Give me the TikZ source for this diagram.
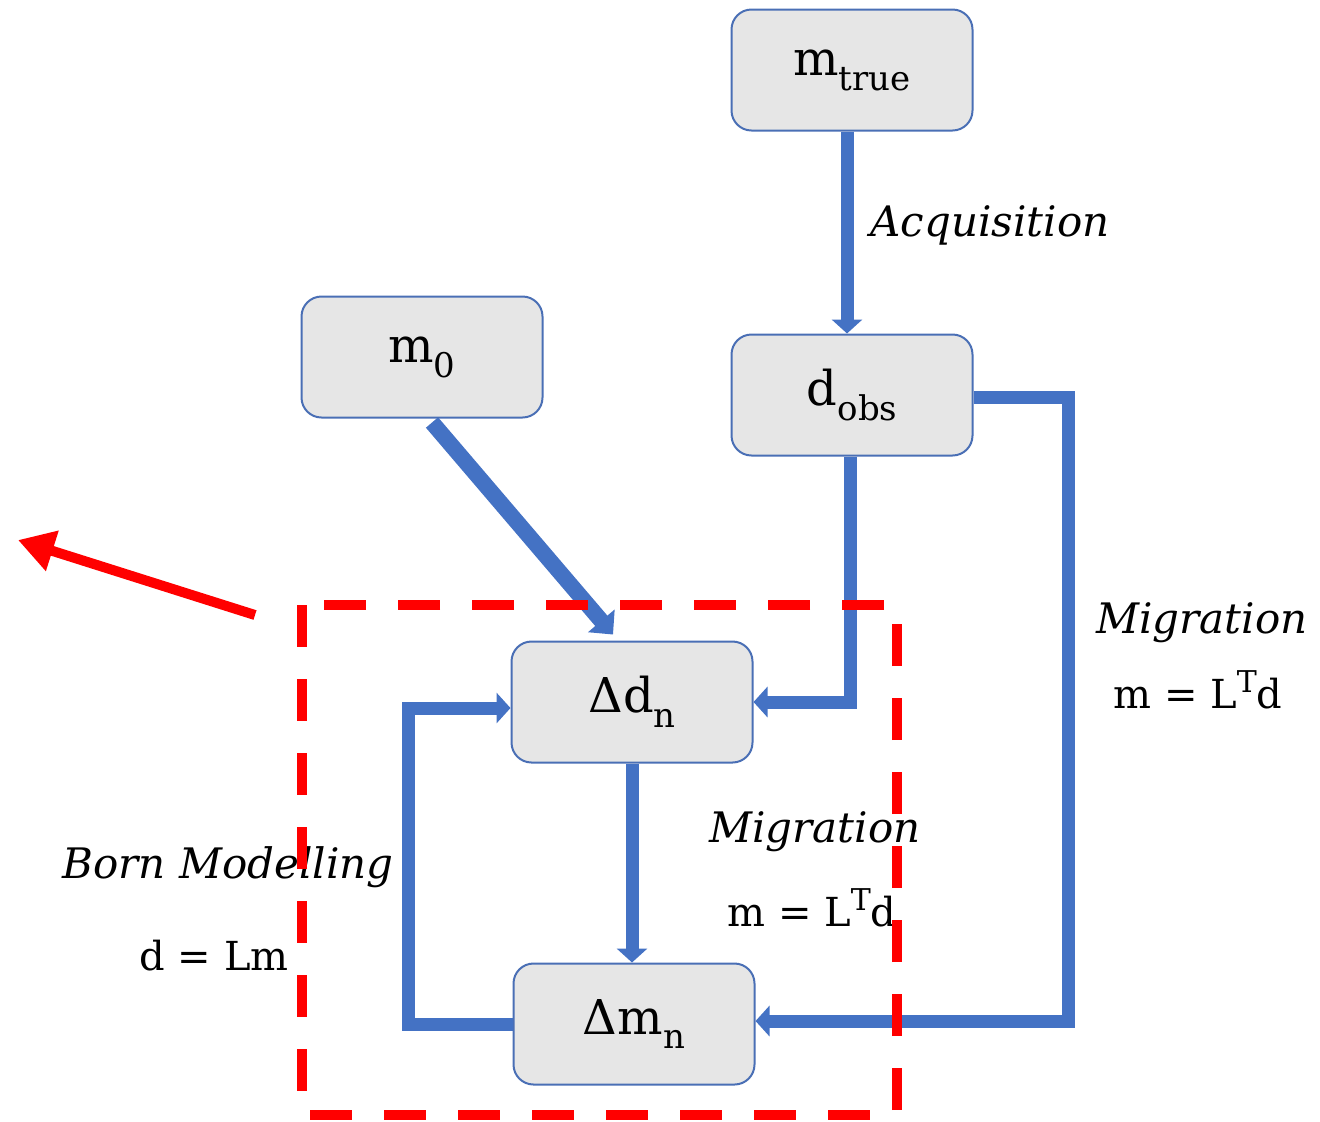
\documentclass[tikz,border=0pt]{standalone}
\usepackage{fontspec}
\setmainfont{DejaVu Serif}
\usetikzlibrary{arrows.meta}
\definecolor{officeblue}{HTML}{4472C4}
\definecolor{boxedge}{HTML}{4A6FB5}
\definecolor{boxfill}{HTML}{E6E6E6}
\definecolor{alertred}{HTML}{FF0000}
\newcommand{\lowidx}[1]{\raisebox{-0.6ex}{\fontsize{17}{18}\selectfont #1}}
\newcommand{\hiT}{\raisebox{0.8ex}{\fontsize{15}{16}\selectfont T}}
\tikzset{
  modelbox/.style={draw=boxedge, line width=1pt, fill=boxfill, rounded corners=10pt,
    minimum width=120.5pt, minimum height=60.5pt, inner sep=0pt,
    font=\fontsize{24}{28}\selectfont},
  flow/.style={draw=officeblue, line width=6.5pt,
    -{Triangle[width=15pt,length=7pt]}},
  thickflow/.style={draw=officeblue, line width=8pt,
    -{Triangle[width=17pt,length=9pt]}},
  redframe/.style={draw=alertred, line width=5pt, dash pattern=on 21pt off 16pt},
  redarrow/.style={draw=alertred, line width=5pt,
    -{Triangle[width=20pt,length=18pt]}},
  lbl/.style={font=\fontsize{21}{24}\selectfont\itshape, inner sep=0pt},
  eqn/.style={font=\fontsize{20}{24}\selectfont, inner sep=0pt}
}
\begin{document}
\begin{tikzpicture}[x=0.5pt, y=-0.5pt]
\useasboundingbox (0,0) rectangle (1320,1121);

% boxes
\node[modelbox] (mtrue) at (852,70) {m\lowidx{true}};
\node[modelbox] (m0) at (422,357) {m\lowidx{0}};
\node[modelbox] (dobs) at (852,395) {d\lowidx{obs}};
\node[modelbox] (dd) at (632,702) {Δd\lowidx{n}};
\node[modelbox] (dm) at (634,1024) {Δm\lowidx{n}};

% blue connectors
\draw[flow] ([xshift=-2.5pt]mtrue.south) -- ([xshift=-2.5pt]dobs.north);
\draw[thickflow] ([xshift=5pt,yshift=-2pt]m0.south) -- ([xshift=-9.5pt,yshift=3pt]dd.north);
\draw[flow] ([xshift=-1pt]dobs.south) |- (dd.east);
\draw[flow] ([yshift=-1pt]dobs.east) -- ++(95,0) |- ([yshift=1.5pt]dm.east);
\draw[flow] (dd.south) -- (dd.south |- dm.north);
\draw[flow] (dm.west) -- ++(-104,0) |- ([yshift=-3pt]dd.west);

% labels
\node[lbl] (acq) at (990,225) {Acquisition};
\node[lbl] (mig1) at (1202,623) {Migration};
\node[eqn] (eq1) at (1198,690) {m = L\hiT d};
\node[lbl] (mig2) at (815,832) {Migration};
\node[eqn] (eq2) at (812,908) {m = L\hiT d};
\node[lbl] (born) at (228,867) {Born Modelling};
\node[eqn] (eq3) at (214,956) {d = Lm};

% red highlight
\draw[redframe] (302,605) rectangle (897,1115);
\coordinate (ra1) at (255,615);
\coordinate (ra2) at (18,540);
\draw[redarrow] (ra1) -- (ra2);
\end{tikzpicture}
\end{document}
